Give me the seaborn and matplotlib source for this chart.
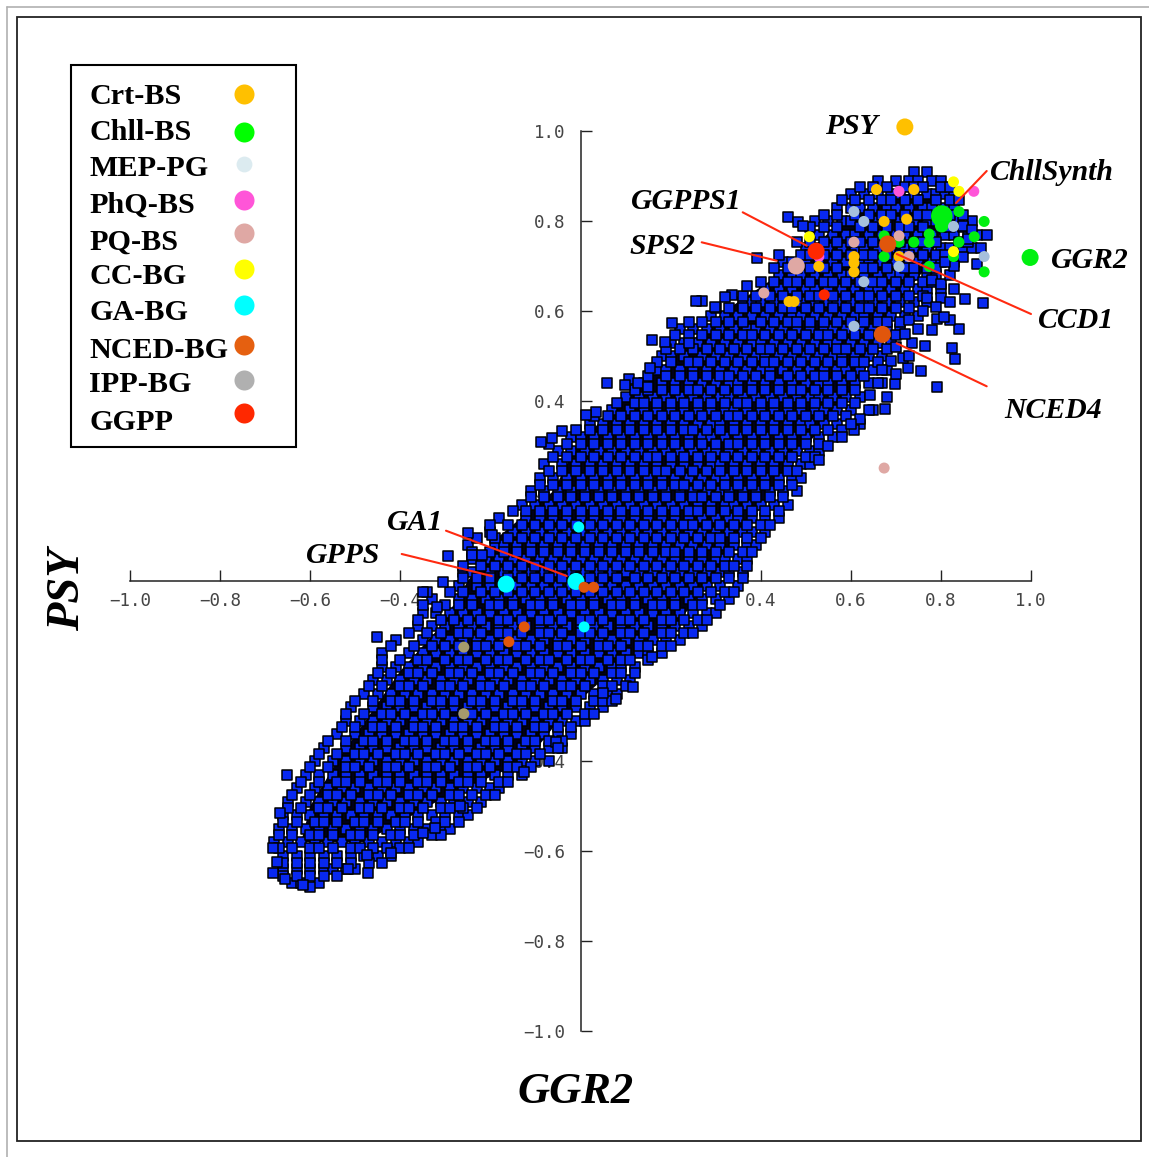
import matplotlib
matplotlib.use("Agg")
import matplotlib.pyplot as plt
from matplotlib.lines import Line2D
from matplotlib.patches import Rectangle
import seaborn as sns
import pandas as pd

W, H = 1149, 1157
sns.set_theme(style="white")

# background cloud: one y per row (hundredths)
cloud_y = [91, 89, 86, 83, 80, 77, 74, 71, 68, 65, 62, 59, 56, 53, 50, 47, 44, 41, 38, 35, 32, 29, 26, 23, 20, 17, 14, 11, 8, 5, 2,
           -1, -4, -7, -10, -13, -16, -19, -22, -25, -28, -31, -34, -37, -40, -43, -46, -49, -52, -55, -58, -61, -64, -67]
cloud_x = [
    [74, 77],
    [66, 70, 73, 75, 78, 80],
    [60, 63, 66, 69, 71, 74, 77, 79, 81, 83],
    [57, 60, 62, 65, 68, 70, 73, 76, 78, 81, 83],
    [52, 55, 58, 60, 63, 66, 68, 71, 74, 77, 79, 82, 84, 87],
    [53, 56, 59, 61, 64, 67, 70, 72, 75, 78, 81, 83, 86, 88],
    [50, 52, 55, 58, 61, 63, 66, 69, 72, 74, 77, 80, 82, 85, 87],
    [45, 47, 50, 53, 56, 59, 62, 64, 67, 70, 73, 75, 78, 80, 83],
    [44, 47, 49, 52, 55, 58, 60, 63, 66, 69, 71, 74, 77, 79],
    [41, 44, 47, 50, 52, 55, 58, 61, 64, 66, 69, 72, 75, 77, 80],
    [36, 38, 40, 43, 46, 49, 52, 55, 57, 60, 63, 65, 68, 71, 74, 77],
    [29, 32, 35, 38, 41, 44, 47, 49, 52, 55, 58, 61, 63, 66, 69, 72, 75],
    [22, 25, 28, 31, 34, 37, 39, 42, 45, 48, 51, 54, 56, 59, 62, 65, 68, 71],
    [20, 23, 26, 29, 32, 35, 38, 40, 43, 46, 49, 52, 55, 57, 60, 63, 66, 69],
    [18, 20, 23, 27, 30, 33, 36, 39, 41, 44, 47, 50, 53, 56, 58, 61, 64, 67],
    [17, 19, 22, 25, 28, 31, 34, 37, 40, 42, 45, 48, 51, 54, 57, 59, 62, 65, 68],
    [14, 18, 21, 24, 27, 30, 33, 35, 38, 41, 44, 47, 50, 53, 55, 58, 61, 64, 67],
    [10, 13, 16, 19, 22, 25, 28, 31, 33, 36, 39, 42, 45, 48, 51, 53, 56, 59, 62],
    [7, 11, 14, 17, 20, 23, 26, 29, 32, 34, 37, 40, 43, 46, 49, 52, 54, 57, 60, 65],
    [2, 5, 8, 11, 14, 17, 20, 23, 26, 29, 31, 34, 37, 40, 43, 46, 49, 51, 54, 57, 62],
    [-2, 0, 3, 6, 9, 12, 15, 18, 21, 24, 27, 29, 32, 35, 38, 41, 44, 47, 50, 53, 56],
    [-5, -2, 1, 4, 7, 10, 13, 16, 19, 22, 25, 28, 30, 33, 36, 39, 42, 45, 48, 51, 53],
    [-8, -4, -1, 2, 5, 8, 11, 14, 17, 20, 23, 26, 29, 31, 34, 37, 40, 43, 46, 49, 51],
    [-9, -6, -3, 0, 3, 6, 9, 12, 15, 18, 21, 24, 27, 30, 32, 35, 38, 41, 44, 47, 49],
    [-11, -8, -5, -2, 1, 4, 7, 10, 13, 16, 19, 22, 25, 28, 31, 33, 36, 39, 42, 45, 48],
    [-13, -10, -7, -4, -1, 2, 5, 8, 11, 14, 17, 20, 23, 26, 29, 32, 34, 37, 40, 43, 46],
    [-18, -12, -9, -6, -3, 0, 3, 6, 9, 12, 15, 18, 21, 24, 27, 30, 33, 35, 38, 41, 44],
    [-20, -15, -12, -9, -6, -3, 0, 3, 6, 9, 12, 15, 18, 21, 24, 27, 30, 33, 36, 38, 41],
    [-25, -19, -17, -14, -11, -8, -5, -2, 1, 4, 7, 10, 13, 16, 19, 22, 25, 28, 31, 34, 37, 39],
    [-24, -21, -18, -15, -12, -9, -6, -3, 0, 3, 6, 9, 12, 15, 18, 21, 24, 27, 30, 32, 35, 37],
    [-26, -24, -20, -17, -14, -11, -8, -5, -2, 1, 4, 7, 10, 13, 16, 19, 22, 25, 28, 31, 33, 36],
    [-27, -23, -20, -17, -14, -11, -8, -5, -2, 1, 4, 7, 10, 13, 16, 19, 22, 25, 28, 31, 35],
    [-33, -27, -24, -21, -18, -15, -12, -9, -6, -3, 0, 3, 6, 9, 12, 15, 18, 21, 24, 27, 30, 33],
    [-35, -32, -29, -26, -23, -20, -17, -14, -11, -8, -5, -2, 1, 4, 7, 10, 13, 16, 19, 22, 25, 28, 30],
    [-36, -33, -30, -27, -24, -21, -18, -15, -12, -9, -6, -3, 0, 3, 6, 9, 12, 15, 18, 21, 24, 27],
    [-41, -35, -32, -29, -26, -23, -20, -17, -14, -11, -8, -5, -2, 1, 4, 7, 10, 13, 16, 19, 22],
    [-44, -38, -35, -32, -29, -26, -23, -20, -17, -14, -11, -8, -5, -2, 1, 4, 7, 10, 13, 15, 18],
    [-44, -41, -38, -35, -32, -29, -26, -23, -20, -17, -14, -11, -8, -5, -2, 1, 4, 7, 9, 12],
    [-46, -43, -40, -37, -34, -31, -28, -25, -22, -19, -16, -13, -10, -7, -4, -1, 2, 5, 8, 11],
    [-48, -45, -42, -39, -36, -33, -30, -27, -24, -21, -18, -15, -12, -9, -6, -3, 0, 3, 6, 8],
    [-51, -46, -43, -40, -37, -34, -31, -28, -25, -22, -19, -16, -13, -10, -7, -4, -1, 2, 5],
    [-52, -49, -46, -43, -40, -37, -34, -31, -28, -25, -22, -19, -16, -13, -10, -7, -4, -1, 1],
    [-54, -50, -47, -44, -41, -38, -35, -32, -29, -26, -23, -20, -17, -14, -11, -8, -5, -2],
    [-57, -52, -49, -46, -43, -40, -37, -34, -31, -28, -25, -22, -19, -16, -13, -10, -7, -4],
    [-59, -55, -52, -49, -46, -43, -40, -37, -34, -31, -28, -25, -22, -19, -16, -13, -10, -7],
    [-61, -58, -55, -52, -49, -46, -43, -40, -37, -34, -31, -28, -25, -22, -19, -16, -13],
    [-63, -59, -56, -53, -50, -47, -44, -41, -38, -35, -32, -29, -26, -23, -20, -18],
    [-65, -61, -58, -55, -52, -49, -46, -43, -40, -37, -34, -31, -28, -25, -22],
    [-66, -63, -60, -57, -54, -51, -48, -45, -42, -39, -36, -33, -30, -27, -25],
    [-67, -64, -61, -58, -55, -52, -49, -46, -43, -40, -37, -34, -31, -29],
    [-68, -65, -62, -59, -56, -53, -50, -47, -44, -41, -38, -36],
    [-66, -63, -60, -57, -54, -51, -48, -45, -42],
    [-66, -63, -60, -57, -55, -52, -50],
    [-64, -62, -58],
]
# second pass of rows between the first ones
cloud2_y = [87.5, 84.6, 81.4, 78.6, 75.4, 72.5, 69.6, 66.5, 63.4, 60.6, 57.5, 54.6, 51.5, 48.6, 45.5, 42.4, 39.5, 36.6, 33.5, 30.4, 27.6, 24.5, 21.4, 18.6, 15.5, 12.4, 9.6, 6.5, 3.4, 0.6,
            -2.5, -5.4, -8.6, -11.5, -14.4, -17.6, -20.5, -23.4, -26.6, -29.5, -32.4, -35.6, -38.5, -41.4, -44.6, -47.5, -50.4, -53.6, -56.5, -59.4, -62.6, -65.5]
cloud2_x = [
    [62, 65, 68, 72, 74, 76, 80, 82],
    [58, 61, 64, 67, 69, 72, 75, 79, 82, 84],
    [54, 57, 61, 64, 67, 69, 72, 75, 77, 80, 82, 85],
    [51, 54, 57, 62, 65, 68, 71, 73, 76, 80, 82, 85],
    [48, 51, 54, 57, 60, 62, 65, 69, 71, 74, 76, 79, 84, 86],
    [44, 49, 51, 54, 57, 60, 63, 65, 68, 71, 73, 76, 79, 81],
    [43, 46, 48, 51, 54, 57, 61, 63, 65, 68, 72, 74, 77, 79],
    [40, 43, 46, 48, 51, 54, 56, 59, 62, 65, 67, 70, 73, 76, 78],
    [36, 39, 42, 45, 48, 51, 53, 56, 59, 62, 64, 67, 70, 73, 76],
    [30, 33, 36, 39, 42, 45, 47, 50, 53, 56, 59, 62, 64, 67, 70, 73],
    [24, 27, 30, 33, 36, 40, 43, 46, 48, 51, 54, 57, 60, 63, 66, 68, 71],
    [21, 24, 27, 30, 33, 36, 38, 41, 44, 47, 50, 53, 55, 58, 61, 64, 67, 70],
    [19, 22, 25, 28, 31, 34, 37, 40, 42, 45, 48, 51, 54, 57, 59, 62, 65, 68],
    [17, 20, 24, 26, 29, 32, 35, 38, 41, 43, 46, 49, 52, 55, 58, 61, 63, 66],
    [15, 19, 22, 25, 28, 31, 33, 36, 39, 42, 46, 49, 52, 54, 57, 60, 63],
    [12, 15, 18, 21, 24, 26, 29, 32, 35, 38, 41, 44, 47, 49, 52, 55, 58, 61],
    [8, 12, 14, 17, 20, 23, 26, 29, 32, 35, 37, 40, 43, 46, 49, 52, 55, 58, 61],
    [3, 6, 9, 12, 15, 18, 21, 24, 27, 30, 33, 35, 38, 41, 44, 47, 50, 53, 56, 59],
    [-1, 2, 5, 8, 11, 14, 17, 20, 23, 25, 28, 31, 34, 37, 40, 43, 46, 49, 52, 55, 58],
    [-7, -3, 0, 3, 6, 9, 12, 15, 18, 21, 24, 27, 30, 33, 35, 38, 41, 44, 47, 50, 53],
    [-6, -3, 0, 3, 6, 9, 12, 15, 17, 20, 23, 26, 29, 32, 35, 38, 41, 44, 47, 50, 52],
    [-7, -4, -1, 2, 5, 8, 11, 14, 17, 19, 22, 25, 28, 31, 34, 37, 40, 43, 46, 48],
    [-9, -6, -3, 0, 3, 6, 9, 12, 15, 18, 21, 23, 26, 29, 32, 35, 38, 41, 44, 47],
    [-11, -8, -5, -2, 1, 4, 7, 10, 13, 16, 19, 22, 25, 27, 30, 33, 36, 39, 42, 45],
    [-15, -12, -9, -6, -3, 0, 3, 6, 9, 12, 15, 18, 21, 24, 26, 29, 32, 35, 38, 41, 44],
    [-20, -16, -13, -10, -7, -4, -1, 2, 5, 8, 11, 14, 17, 20, 23, 25, 28, 31, 34, 37, 40, 42],
    [-23, -19, -16, -13, -10, -7, -4, -1, 2, 5, 8, 11, 14, 17, 20, 23, 26, 29, 31, 34, 37, 40],
    [-24, -20, -17, -14, -11, -8, -5, -2, 1, 4, 7, 10, 13, 16, 19, 21, 24, 27, 30, 33, 36, 38],
    [-26, -22, -19, -16, -13, -10, -7, -4, -1, 2, 5, 8, 11, 14, 17, 20, 23, 26, 29, 32, 34, 37],
    [-26, -23, -20, -16, -13, -10, -7, -4, -1, 2, 5, 8, 12, 15, 18, 21, 24, 27, 30, 33, 36],
    [-34, -29, -26, -22, -19, -16, -13, -10, -7, -4, -1, 2, 5, 8, 11, 14, 17, 20, 23, 26, 29, 32, 34],
    [-35, -30, -27, -24, -20, -18, -15, -11, -9, -6, -2, 0, 3, 7, 9, 12, 16, 18, 21, 25, 27, 31],
    [-36, -31, -28, -25, -22, -18, -16, -13, -9, -7, -4, 0, 2, 5, 9, 11, 14, 18, 20, 23, 26, 28],
    [-38, -34, -31, -27, -25, -22, -18, -16, -13, -9, -7, -4, 0, 2, 5, 9, 11, 14, 18, 20, 23, 25],
    [-42, -37, -33, -30, -27, -23, -21, -18, -14, -12, -9, -5, -3, 0, 4, 6, 9, 13, 15, 18, 20],
    [-44, -40, -36, -34, -30, -27, -25, -21, -18, -16, -12, -9, -7, -3, 0, 2, 6, 9, 11, 15],
    [-45, -42, -38, -36, -33, -29, -27, -24, -20, -18, -15, -11, -9, -6, -2, 0, 3, 7, 9, 12],
    [-47, -44, -40, -38, -35, -31, -29, -26, -22, -20, -17, -13, -11, -8, -4, -2, 1, 5, 7, 10],
    [-50, -46, -42, -40, -37, -33, -31, -28, -24, -22, -19, -15, -13, -10, -6, -4, -1, 3, 5, 7],
    [-52, -48, -44, -42, -39, -35, -33, -30, -26, -24, -21, -17, -15, -12, -8, -6, -3, 1, 3],
    [-53, -50, -46, -44, -41, -37, -35, -32, -28, -26, -23, -19, -17, -14, -10, -8, -5, -2],
    [-56, -52, -48, -46, -43, -39, -37, -34, -30, -28, -25, -21, -19, -16, -12, -10, -7, -4],
    [-58, -54, -50, -48, -45, -41, -39, -36, -32, -30, -27, -23, -21, -18, -14, -12, -9],
    [-60, -56, -52, -50, -47, -43, -41, -38, -34, -32, -29, -25, -23, -20, -16, -14, -11],
    [-62, -58, -54, -52, -49, -45, -43, -40, -36, -34, -31, -27, -25, -22, -18, -16],
    [-64, -60, -56, -54, -51, -47, -45, -42, -38, -36, -33, -29, -27, -24, -21, -19],
    [-65, -62, -58, -56, -53, -49, -47, -44, -40, -38, -35, -31, -29, -26, -23],
    [-66, -63, -59, -57, -54, -50, -48, -45, -41, -39, -36, -32, -30, -27],
    [-67, -64, -60, -58, -55, -51, -49, -46, -42, -40, -37, -33, -31],
    [-67, -64, -60, -58, -55, -51, -49, -46, -43, -40, -38],
    [-66, -63, -60, -57, -54, -51, -47, -44],
    [-66, -63, -60, -57, -54],
]
# loose squares on the rim
rim_x = [46.1, 48.3, 49.4, 39.2, 37, 33.6, 32.1, 27, 25.6, 29.9, 20.3, 15.9, 18.8, 24.1, 15.4, 5.9, 10.8, 9.9, 12.8, 15, 3.4, 1.2, -4.1, -6.3, -8.8,
         89.3, 85.4, 84, 82, 79.1, 80.7, 78, 82.5, 83.1, 79.1, 75.6, 72.7, 76.5, 73.6, 90.2, 88, 67.6, 64.3, 60.7, 69.8, 71.6,
         -45.2, -65.2, -66.7, -47.2, -51.6, -60, -61.6, -65.6, -68.3, -67.4, -68.3, -29.4, -25, -19.7, -31.9, -35, -30.5, -24.1, -21.9,
         11.7, 7.9, 5, -12.5, -5.4, -5, 15.9, -26.7, -32.3, -35, -42.1, -47.4,
         78, 80, 82, 83, 80, 77, 82, 79, 76, 73, 75, 72, 70, 73, 69, 67, 70, 66, 68, 64, 62, 60, 58, 55, 53,
         85, 87, 89, 85, 83, 81, 86]
rim_y = [80.9, 79.8, 78.9, 71.8, 65.6, 63.6, 63.1, 62.2, 62.2, 60.9, 57.3, 53.6, 53.1, 52.9, 47.3, 44, 44.9, 43.6, 44, 43.1, 37.6, 36.9, 33.3, 31.8, 30.9,
         61.8, 62.7, 56, 58, 58.2, 58.7, 55.8, 51.8, 49.3, 43.1, 46.7, 47.3, 52.2, 52.9, 76.9, 70.4, 38.2, 41.3, 33.6, 43.8, 49.6,
         -12.4, -43.1, -51.6, -64.9, -64, -68, -67.6, -66.2, -64.9, -62.4, -59.3, 5.6, 10.7, 10.2, -5.8, -2.4, -0.2, 5.8, 5.8,
         -23.6, -26.2, -24.9, -42.4, -35.8, -37.1, -16.9, -50, -54.9, -56, -60.4, -60.9,
         67, 66, 68, 65, 63, 63, 62, 61, 60, 58, 56, 55, 52, 50, 49, 47, 46, 44, 41, 38, 36, 35, 32, 30, 27,
         79, 78, 74, 72, 70, 71, 76]
# dense core outline under the squares
core_x = [-62, -60, -54, -47, -40, -31, -25, -18, -6, -1, 9, 21, 32, 47, 58, 70, 78, 81, 77, 69, 65, 59, 50, 43, 35, 29, 21, 7, -4, -12, -30, -48]
core_y = [-58, -50, -40, -30, -20, -10, 0, 10, 20, 30, 40, 50, 60, 70, 80, 86, 86, 80, 70, 60, 50, 40, 30, 20, 10, 0, -10, -20, -30, -40, -48, -58]

# highlighted genes
crt_x = [.720, .657, .740, .674, .724, .607, .607, .607, .529, .463, .474, .707]
crt_y = [1.009, .870, .870, .799, .804, .721, .707, .687, .699, .621, .621, .721]
crt_s = [150, 63, 63, 63, 63, 63, 63, 63, 63, 63, 63, 63]
chl_x = [.802, .802, .840, .896, .874, .840, .774, .774, .740, .707, .674, .674, .774, .828, .896, .998]
chl_y = [.811, .790, .821, .799, .765, .753, .771, .753, .753, .753, .767, .721, .699, .721, .687, .719]
chl_s = [240, 100, 63, 63, 63, 63, 63, 63, 63, 63, 63, 63, 63, 63, 63, 150]
mep_x = [.607, .629, .828, .896, .707, .629, .607]
mep_y = [.821, .799, .788, .721, .699, .665, .566]
phq_x = [.707, .873, .529]
phq_y = [.866, .866, .721]
pq_x = [.607, .707, .729, .479, .407, .674]
pq_y = [.753, .767, .721, .700, .640, .251]
pq_s = [63, 63, 63, 150, 63, 63]
cc_x = [.828, .840, .508, .828]
cc_y = [.887, .866, .765, .732]
ga_x = [-.004, -.010, -.165, .008]
ga_y = [.120, -.001, -.007, -.102]
ga_s = [63, 150, 150, 63]
nced_x = [.682, .670, .008, .029, -.125, -.159]
nced_y = [.749, .548, -.014, -.014, -.102, -.135]
nced_s = [150, 150, 63, 63, 63, 63]
ipp_x = [-.259, -.259]
ipp_y = [-.147, -.295]
ggpp_x = [.523, .541]
ggpp_y = [.733, .636]
ggpp_s = [150, 63]

legend_names = ["Crt-BS", "Chll-BS", "MEP-PG", "PhQ-BS", "PQ-BS", "CC-BG", "GA-BG", "NCED-BG", "IPP-BG", "GGPP"]
legend_colors = ["#FFC000", "#00FF00", "#DCEBF0", "#FF55D8", "#DFA8A4", "#FFFF00", "#00FFFF", "#E56010", "#B0B0B0", "#FF2800"]
tick_vals = [-1.0, -0.8, -0.6, -0.4, -0.2, 0.2, 0.4, 0.6, 0.8, 1.0]
tick_labels = ["\u22121.0", "\u22120.8", "\u22120.6", "\u22120.4", "\u22120.2", "0.2", "0.4", "0.6", "0.8", "1.0"]
minor_vals = [-0.9, -0.7, -0.5, -0.3, -0.1, 0.1, 0.3, 0.5, 0.7, 0.9]

fig = plt.figure(figsize=(W / 100, H / 100), dpi=100, facecolor="white")
ax = fig.add_axes([0, 0, 1, 1])
ax.set_facecolor("none")

xs, ys = [], []
for yy, row in list(zip(cloud_y, cloud_x)) + list(zip(cloud2_y, cloud2_x)):
    for xx in row:
        xs.append(xx / 100)
        ys.append(yy / 100)
xs += [v / 100 for v in rim_x]
ys += [v / 100 for v in rim_y]
cloud = pd.DataFrame({"x": xs, "y": ys})

ax.fill([v / 100 for v in core_x], [v / 100 for v in core_y], color="#000018", zorder=0.9, lw=0)
sns.scatterplot(data=cloud, x="x", y="y", marker="s", s=44, color="#0828F0", edgecolor="black", linewidth=1.1, ax=ax, zorder=1, legend=False)


def genes(x, y, color, s=None):
    df = pd.DataFrame({"x": x, "y": y, "s": s if s else [63] * len(x)})
    ax.scatter(df["x"], df["y"], s=df["s"], color=color, linewidth=0, zorder=3)


genes(phq_x, phq_y, "#FF55D8")
genes(crt_x, crt_y, "#FFC000", crt_s)
genes(chl_x, chl_y, "#00F010", chl_s)
genes(mep_x, mep_y, "#A6C0DC")
genes(pq_x, pq_y, "#DFA8A4", pq_s)
genes(cc_x, cc_y, "#FFFF00")
genes(ga_x, ga_y, "#00FFFF", ga_s)
genes(nced_x, nced_y, "#E0560C", nced_s)
genes(ipp_x, ipp_y, "#A59A6C")
genes(ggpp_x, ggpp_y, "#FF2800", ggpp_s)

# axes crossing at the origin; data range spans the frame by the reference's scale
ax.set_xlim((0 - 580.5) / 450.5, (W - 580.5) / 450.5)
ax.set_ylim((581 - H) / 450, 581 / 450)
ax.set_xlabel("")
ax.set_ylabel("")
for side in ("top", "right"):
    ax.spines[side].set_visible(False)
for side in ("left", "bottom"):
    ax.spines[side].set_position(("data", 0))
    ax.spines[side].set_bounds(-1, 1)
    ax.spines[side].set_color("#222222")
    ax.spines[side].set_linewidth(1.1)
    ax.spines[side].set_zorder(0.5)
ax.set_axisbelow(True)
ax.set_xticks(tick_vals, tick_labels)
ax.set_yticks(tick_vals, tick_labels)
ax.set_xticks(minor_vals, minor=True)
ax.set_yticks(minor_vals, minor=True)
ax.tick_params(axis="both", which="major", direction="in", length=8, width=1, color="#222222", labelcolor="#444444", labelsize=12.6)
ax.tick_params(axis="both", which="minor", direction="in", length=5, width=1, color="#222222")
ax.tick_params(axis="x", which="major", pad=8, bottom=True)
ax.tick_params(axis="y", which="major", pad=11, left=True)
for lab in ax.get_xticklabels() + ax.get_yticklabels():
    lab.set_family("DejaVu Sans Mono")


def fx(p):
    return p / W


def fy(p):
    return 1 - p / H


# leader lines (figure pixels of the reference)
leaders = [((986.7, 171), (956, 203)), ((742.7, 212.3), (806.7, 245.7)), ((701.7, 242.3), (776.7, 260.7)),
           ((896.7, 254), (1031, 314)), ((896.7, 343.3), (986.7, 386.3)), ((446, 530.7), (566.7, 576)),
           ((401.7, 554), (491.7, 576))]
for a, b in leaders:
    fig.add_artist(Line2D([fx(a[0]), fx(b[0])], [fy(a[1]), fy(b[1])], color="#FF2A10", lw=1.5, zorder=4))

serif = "Liberation Serif"
gene_labels = [("PSY", 825, 126), ("GGR2", 1051, 261), ("ChllSynth", 990, 172), ("GGPPS1", 631, 202), ("SPS2", 629, 247),
               ("CCD1", 1038, 321), ("NCED4", 1004, 411), ("GA1", 387, 522), ("GPPS", 306, 556)]
for t, px, py in gene_labels:
    fig.text(fx(px), fy(py), t, family=serif, style="italic", weight="bold", fontsize=21.4, color="black", ha="left", va="center", zorder=5)

fig.text(fx(576), fy(1092), "GGR2", family=serif, style="italic", weight="bold", fontsize=32, color="black", ha="center", va="center")
fig.text(fx(68), fy(590), "PSY", family=serif, style="italic", weight="bold", fontsize=33.5, color="black", ha="center", va="center", rotation=90)

# legend box
fig.add_artist(Rectangle((fx(71), fy(447)), 225 / W, 382 / H, transform=fig.transFigure, fill=False, ec="black", lw=1.5))
legend_text_y = [96, 133, 169, 205, 242, 277, 313, 350, 385, 423]
legend_dot_y = [94.3, 131.7, 164.3, 200, 233, 269, 305, 344.7, 380, 413]
legend_dot_s = [208, 208, 130, 208, 208, 208, 208, 208, 208, 208]
for name, col, ty, dy, ss in zip(legend_names, legend_colors, legend_text_y, legend_dot_y, legend_dot_s):
    fig.text(fx(89.5), fy(ty), name, family=serif, weight="bold", fontsize=21.7, color="black", ha="left", va="center")
    ax.scatter([fx(243.5)], [fy(dy)], s=ss, color=col, linewidth=0, transform=fig.transFigure, zorder=6, clip_on=False)

# page frame
fig.add_artist(Rectangle((fx(17), fy(1141)), 1124 / W, 1124 / H, transform=fig.transFigure, fill=False, ec="#222222", lw=1.3))
fig.add_artist(Line2D([fx(7), fx(1149)], [fy(7), fy(7)], color="#b0b0b0", lw=1.2))
fig.add_artist(Line2D([fx(7), fx(7)], [fy(7), fy(1157)], color="#b0b0b0", lw=1.2))

fig.savefig("out.png", dpi=100)
